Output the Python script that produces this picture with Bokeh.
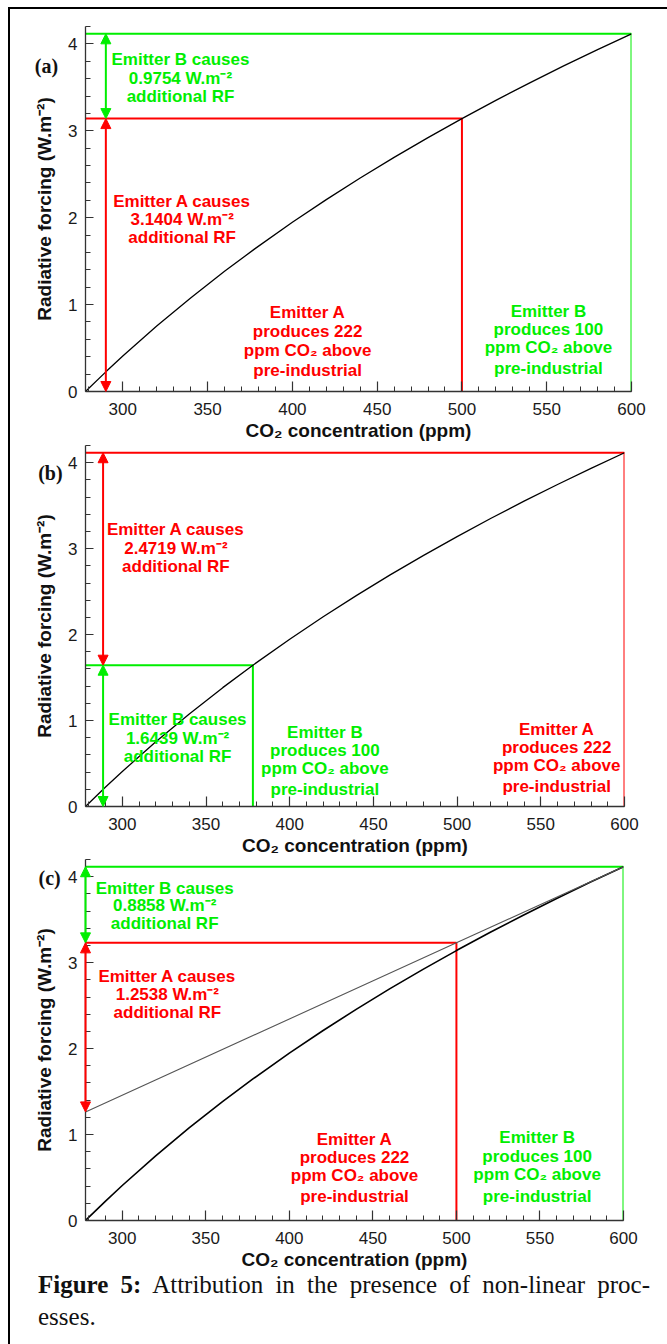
from bokeh.plotting import figure
from bokeh.models import Range1d, SingleIntervalTicker, Div, Column
from bokeh.embed import file_html
from bokeh.resources import INLINE
from bokeh.core.properties import value

# ---------------- data ----------------
PRE_INDUSTRIAL = 278          # ppm
X_MAX = 600
Y_MAX = 4.2
A_PPM = 222                   # emitter A adds
B_PPM = 100                   # emitter B adds

# CO2 concentration (ppm) and radiative forcing (W m-2)
co2 = [278, 290, 300, 320, 340, 360, 378, 400, 420, 440, 460, 480, 500,
       520, 540, 560, 580, 600]
rf = [0.0, 0.2261, 0.4075, 0.7527, 1.0771, 1.3829, 1.6439, 1.9466, 2.2076,
      2.4565, 2.6943, 2.9220, 3.1404, 3.3502, 3.5521, 3.7467, 3.9344, 4.1158]

RF_TOTAL = 4.1158             # forcing at 600 ppm
RF_A_ALONE = 3.1404           # forcing at 500 ppm (panel a)
RF_B_ALONE = 1.6439           # forcing at 378 ppm (panel b)
RF_C_LEVEL = 3.2300           # panel c: linearised level at 500 ppm

# panel c: linearised forcing line
lin_co2 = [278, 500, 600]
lin_rf = [1.2635, 3.2300, 4.1158]

x_ticks_interval = 50
y_ticks_interval = 1

RED = "#ff0000"
GREEN = "#00ee00"
SANS = "Liberation Sans"
SERIF = "Liberation Serif"
HEAD_LEN_PX = 10
HEAD_HALF_W_PX = 5


def make_fig(frame_w, frame_h, left, right, top, bottom):
    p = figure(frame_width=frame_w, frame_height=frame_h,
               min_border_left=left, min_border_right=right,
               min_border_top=top, min_border_bottom=bottom,
               x_range=Range1d(PRE_INDUSTRIAL, X_MAX), y_range=Range1d(0, Y_MAX),
               output_backend="svg", toolbar_location=None,
               background_fill_color="white", border_fill_color="white")
    p.outline_line_color = None
    p.grid.visible = False
    p.xaxis.ticker = SingleIntervalTicker(interval=x_ticks_interval, num_minor_ticks=5)
    p.yaxis.ticker = SingleIntervalTicker(interval=y_ticks_interval, num_minor_ticks=5)
    for ax in (p.xaxis[0], p.yaxis[0]):
        ax.major_tick_out = 0
        ax.minor_tick_out = 0
        ax.minor_tick_in = 5
        ax.axis_line_color = "#333333"
        ax.axis_line_width = 1.3
        ax.major_tick_line_color = "#333333"
        ax.minor_tick_line_color = "#333333"
        ax.major_tick_line_width = 1.2
        ax.minor_tick_line_width = 1.0
        ax.major_label_text_font = SANS
        ax.major_label_text_font_size = "17px"
        ax.major_label_text_color = "#1a1a1a"
        ax.axis_label_text_font = SANS
        ax.axis_label_text_font_style = "bold"
        ax.axis_label_text_font_size = "19px"
        ax.axis_label_text_color = "#111111"
    p.xaxis.major_tick_in = 10
    p.yaxis.major_tick_in = 8
    p.xaxis.major_label_standoff = 11
    p.yaxis.major_label_standoff = 8
    p.xaxis.axis_label_standoff = 2
    p.yaxis.axis_label_standoff = 10
    p.xaxis.axis_label = "CO\u2082 concentration (ppm)"
    p.yaxis.axis_label = "Radiative forcing (W.m\u207b\u00b2)"
    return p


def corner(p, x_end, level, color):
    p.line([PRE_INDUSTRIAL, x_end, x_end], [level, level, 0],
           line_color=color, line_width=2)


def arrow(p, x, y0, y1, color, frame_w, frame_h):
    # double-headed vertical arrow drawn on the overlay level (not clipped by the frame)
    hl = HEAD_LEN_PX * Y_MAX / frame_h
    hw = HEAD_HALF_W_PX * (X_MAX - PRE_INDUSTRIAL) / frame_w
    s = p.segment(x0=[x], y0=[y0 + hl * 0.5], x1=[x], y1=[y1 - hl * 0.5],
                  line_color=color, line_width=2)
    h = p.patches(xs=[[x - hw, x + hw, x], [x - hw, x + hw, x]],
                  ys=[[y0 + hl, y0 + hl, y0], [y1 - hl, y1 - hl, y1]],
                  fill_color=color, line_color=color, line_width=1)
    s.level = "overlay"
    h.level = "overlay"


def block(p, x, ys, lines, color):
    p.text(x=[x] * len(lines), y=ys, text=lines, text_color=color,
           text_font=value(SANS), text_font_style="bold", text_font_size="17px",
           text_align="center", text_baseline="middle")


def tag(p, x, y, txt):
    r = p.text(x=[x], y=[y], text=[txt], text_font=value(SERIF), text_font_style="bold",
               text_font_size="20px", text_align="center", text_baseline="middle",
               text_color="#111111")
    r.level = "overlay"


causes = lambda who: "Emitter %s causes" % who
wm2 = lambda v: "%s W.m\u207b\u00b2" % v
prodA = ["Emitter A", "produces %d" % A_PPM, "ppm CO\u2082 above", "pre-industrial"]
prodB = ["Emitter B", "produces %d" % B_PPM, "ppm CO\u2082 above", "pre-industrial"]

# ---------------- panel (a) ----------------
FA = (546, 365)
pa = make_fig(FA[0], FA[1], 75, 30, 17, 52)
corner(pa, X_MAX, RF_TOTAL, GREEN)
corner(pa, PRE_INDUSTRIAL + A_PPM, RF_A_ALONE, RED)
pa.line(co2, rf, line_color="black", line_width=1.3)
arrow(pa, 290, RF_A_ALONE, RF_TOTAL, GREEN, *FA)
arrow(pa, 290, 0, RF_A_ALONE, RED, *FA)
block(pa, 334, [3.822, 3.603, 3.397], [causes("B"), wm2("0.9754"), "additional RF"], GREEN)
block(pa, 335, [2.190, 1.983, 1.776], [causes("A"), wm2("3.1404"), "additional RF"], RED)
block(pa, 409, [0.914, 0.695, 0.477, 0.236], prodA, RED)
block(pa, 551, [0.925, 0.718, 0.511, 0.259], prodB, GREEN)
tag(pa, 255, 3.74, "(a)")

# ---------------- panel (b) ----------------
FB = (539, 361)
pb = make_fig(FB[0], FB[1], 73, 39, 2, 49)
corner(pb, X_MAX, RF_TOTAL, RED)
corner(pb, PRE_INDUSTRIAL + B_PPM, RF_B_ALONE, GREEN)
pb.line(co2, rf, line_color="black", line_width=1.3)
arrow(pb, 288.5, RF_B_ALONE, RF_TOTAL, RED, *FB)
arrow(pb, 288.5, 0, RF_B_ALONE, GREEN, *FB)
block(pb, 332, [3.217, 3.005, 2.791], [causes("A"), wm2("2.4719"), "additional RF"], RED)
block(pb, 333, [1.008, 0.795, 0.581], [causes("B"), wm2("1.6439"), "additional RF"], GREEN)
block(pb, 421, [0.857, 0.648, 0.438, 0.194], prodB, GREEN)
block(pb, 559.5, [0.900, 0.686, 0.477, 0.233], prodA, RED)
tag(pb, 257, 3.88, "(b)")

# ---------------- panel (c) ----------------
FC = (538, 361)
pc = make_fig(FC[0], FC[1], 72, 41, 1, 50)
corner(pc, X_MAX, RF_TOTAL, GREEN)
corner(pc, PRE_INDUSTRIAL + A_PPM, RF_C_LEVEL, RED)
pc.line(co2, rf, line_color="black", line_width=1.6)
pc.line(lin_co2, lin_rf, line_color="#555555", line_width=1.1)
arrow(pc, PRE_INDUSTRIAL, RF_C_LEVEL, RF_TOTAL, GREEN, *FC)
arrow(pc, PRE_INDUSTRIAL, lin_rf[0], RF_C_LEVEL, RED, *FC)
block(pc, 325.4, [3.867, 3.661, 3.454], [causes("B"), wm2("0.8858"), "additional RF"], GREEN)
block(pc, 327, [2.839, 2.633, 2.423], [causes("A"), wm2("1.2538"), "additional RF"], RED)
block(pc, 439, [0.946, 0.732, 0.519, 0.277], prodA, RED)
block(pc, 548.3, [0.966, 0.741, 0.537, 0.285], prodB, GREEN)
tag(pc, 256.5, 3.98, "(c)")

caption = Div(text=(
    '<div style="font-family:\'Liberation Serif\',serif;font-size:25px;line-height:32px;'
    'color:#111;margin-left:23px;margin-top:-8px;width:612px;">'
    '<div style="text-align:justify;text-align-last:justify;"><b>Figure 5:</b> '
    'Attribution in the presence of non-linear proc-</div>'
    '<div>esses.</div></div>'), width=651, height=62)

layout = Column(children=[pa, pb, pc, caption], spacing=0,
                styles={"margin-top": "7px", "margin-left": "8px",
                        "border-top": "2px solid black",
                        "border-left": "2px solid black",
                        "border-bottom": "2px solid black"})

open("out.html", "w").write(file_html(layout, INLINE))
